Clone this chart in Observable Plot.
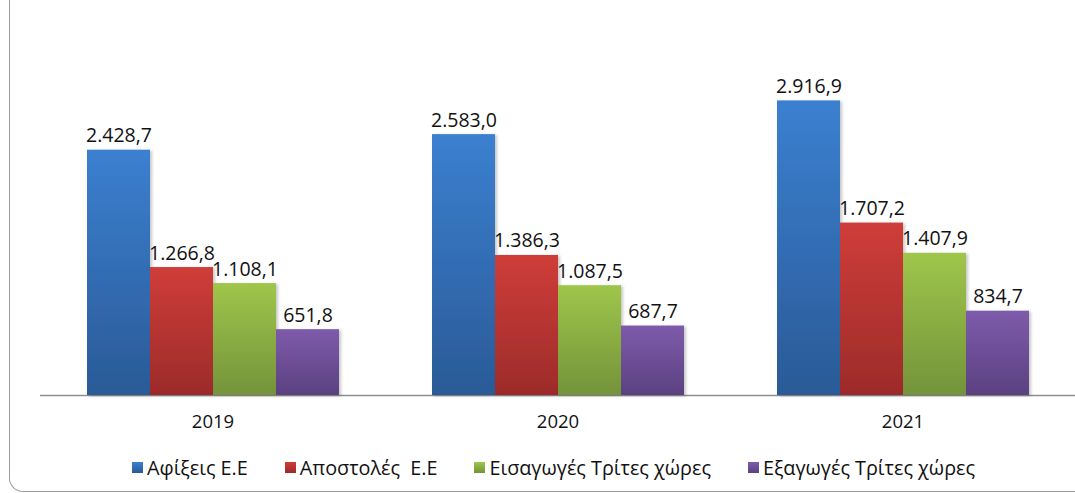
<!DOCTYPE html>
<html><head><meta charset="utf-8">
<script src="https://cdn.jsdelivr.net/npm/d3@7"></script>
<script src="https://cdn.jsdelivr.net/npm/@observablehq/plot@0.6"></script>
<style>
body{margin:0;background:#fff;font-family:"Open Sans",sans-serif;overflow:hidden;width:1075px;height:493px;position:relative;}
#frame{position:absolute;left:9px;top:-40px;width:1066px;height:532px;border-left:1.5px solid #9d9d9d;border-bottom:1.5px solid #9d9d9d;border-bottom-left-radius:14px;box-sizing:border-box;}
#chart{position:absolute;left:0;top:0;}
#legend{position:absolute;top:454px;left:16px;width:1075px;display:flex;justify-content:center;gap:37px;font-size:19.8px;color:#111;}
#legend .item{display:flex;align-items:center;}
#legend .sw{width:11px;height:11px;margin-right:4px;}
</style></head>
<body>
<div id="frame"></div>
<div id="chart"></div>
<div id="legend"></div>
<script>
const years = ["2019", "2020", "2021"];
const series = ["Αφίξεις Ε.Ε", "Αποστολές  Ε.Ε", "Εισαγωγές Τρίτες χώρες", "Εξαγωγές Τρίτες χώρες"];
const afixeis = [2428.7, 2583.0, 2916.9];
const apostoles = [1266.8, 1386.3, 1707.2];
const eisagoges = [1108.1, 1087.5, 1407.9];
const exagoges = [651.8, 687.7, 834.7];
const colorsTop = ["#3b80d0", "#cf3d39", "#9fc64b", "#7d5bab"];
const colorsBottom = ["#2a5a97", "#9c2b2a", "#74933a", "#5b4180"];

const valuesBySeries = [afixeis, apostoles, eisagoges, exagoges];
const data = [];
series.forEach((s, i) => years.forEach((y, j) => data.push({year: y, series: s, idx: i, value: valuesBySeries[i][j]})));

const loc = d3.formatLocale({decimal: ",", thousands: ".", grouping: [3], currency: ["", "€"]});
const fmt = loc.format(",.1f");

const plot = Plot.plot({
  width: 1075,
  height: 440,
  marginLeft: 40,
  marginRight: 0,
  marginTop: 41.5,
  marginBottom: 45,
  style: {fontFamily: "Open Sans, sans-serif", background: "transparent"},
  fx: {domain: years, padding: 0, label: null},
  x: {domain: series, axis: null, paddingInner: 0, paddingOuter: 0.738},
  y: {domain: [0, 3500], axis: null},
  marks: [
    Plot.ruleY([0], {stroke: "#8f8f8f", strokeWidth: 1.6}),
    ...series.map((s, i) => Plot.barY(data.filter(d => d.idx === i), {
      fx: "year", x: "series", y: "value", fill: `url(#g${i})`, inset: 0
    })),
    Plot.text(data, {fx: "year", x: "series", y: "value", text: d => fmt(d.value), lineAnchor: "bottom", dy: -8, fontSize: 19.5, fill: "#111"}),
    Plot.axisFx({anchor: "bottom", tickSize: 0, tickPadding: 19, fontSize: 18.5, fill: "#111", label: null})
  ]
});

const svg = d3.select(plot);
const defs = svg.insert("defs", ":first-child");
colorsTop.forEach((c, i) => {
  const g = defs.append("linearGradient").attr("id", `g${i}`).attr("x1", 0).attr("y1", 0).attr("x2", 0).attr("y2", 1);
  g.append("stop").attr("offset", "0%").attr("stop-color", c);
  g.append("stop").attr("offset", "100%").attr("stop-color", colorsBottom[i]);
});
const f = defs.append("filter").attr("id", "sh").attr("x", "-10%").attr("y", "-5%").attr("width", "130%").attr("height", "115%");
f.append("feDropShadow").attr("dx", 2).attr("dy", 1).attr("stdDeviation", 1.5).attr("flood-color", "#000").attr("flood-opacity", 0.22);
svg.selectAll("rect").filter(function(){ const fl = this.getAttribute("fill") || this.parentNode.getAttribute("fill"); return fl && fl.startsWith("url"); }).attr("filter", "url(#sh)");

document.getElementById("chart").appendChild(plot);

const legend = d3.select("#legend");
series.forEach((s, i) => {
  const it = legend.append("div").attr("class", "item");
  it.append("div").attr("class", "sw").style("background", `linear-gradient(${colorsTop[i]}, ${colorsBottom[i]})`);
  it.append("span").text(s).style("white-space", "pre");
});
</script>
</body></html>
